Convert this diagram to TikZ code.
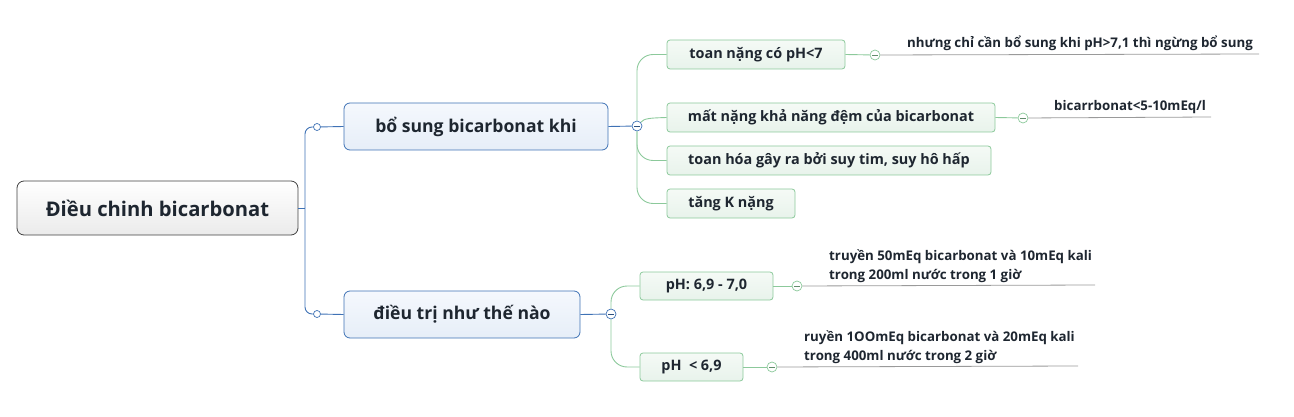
\documentclass[tikz,border=0pt]{standalone}
\usepackage{fontspec}
\setmainfont{Open Sans}
\usetikzlibrary{positioning}

\definecolor{bluelink}{HTML}{3F72B5}
\definecolor{greenlink}{HTML}{8CC99B}
\definecolor{leafgray}{HTML}{9A9A9A}
\definecolor{inkdark}{HTML}{1E2630}
\definecolor{bluetop}{HTML}{F5F8FD}
\definecolor{bluebot}{HTML}{E6EEF8}
\definecolor{greentop}{HTML}{F5FAF6}
\definecolor{greenbot}{HTML}{E8F3EB}

\begin{document}
\begin{tikzpicture}[x=1pt,y=-1pt,
    blueln/.style={draw=bluelink,line width=0.9pt},
    greenln/.style={draw=greenlink,line width=0.9pt},
    leafln/.style={draw=leafgray,line width=0.8pt},
    knob/.style={circle,draw=#1,fill=white,line width=0.7pt,minimum size=10pt,inner sep=0pt,
      path picture={\draw[#1!70!black,line width=0.9pt]
        ([xshift=-2.6pt]path picture bounding box.center) -- ([xshift=2.6pt]path picture bounding box.center);}},
    dot/.style={circle,draw=bluelink,fill=white,line width=0.7pt,minimum size=7pt,inner sep=0pt}]

  \useasboundingbox (0,0) rectangle (1294,417);

  % main topic
  \node[draw=black!75,rounded corners=7pt,top color=white,bottom color=black!8,line width=0.8pt,
        minimum width=281pt,minimum height=54pt,font=\bfseries\fontsize{20.2}{24}\selectfont,text=inkdark]
    (root) at (157.5,208) {Điều chinh bicarbonat};

  % first level
  \begin{scope}[every node/.style={draw=bluelink,rounded corners=6pt,top color=bluetop,bottom color=bluebot,
      line width=0.8pt,minimum height=47pt,font=\bfseries\fontsize{17.6}{20}\selectfont,text=inkdark}]
    \node[minimum width=264pt] (bosung) at (476,126.5) {bổ sung bicarbonat khi};
    \node[minimum width=236pt] (dieutri) at (462,314.5) {điều trị như thế nào};
  \end{scope}

  % second level
  \begin{scope}[every node/.style={draw=greenlink,rounded corners=3pt,top color=greentop,bottom color=greenbot,
      line width=0.8pt,minimum height=29pt,font=\bfseries\fontsize{14.4}{17}\selectfont,text=inkdark}]
    \node[minimum width=178pt] (toan) at (756,54.5) {toan nặng có pH<7};
    \node[minimum width=328pt] (matdem) at (831,117.5) {mất nặng khả năng đệm của bicarbonat};
    \node[minimum width=324pt] (suytim) at (829,160.5) {toan hóa gây ra bởi suy tim, suy hô hấp};
    \node[minimum width=128pt] (tangk) at (731,203.5) {tăng K nặng};
    \node[minimum width=133pt,minimum height=28pt] (ph1) at (706.5,286) {pH: 6,9 - 7,0};
    \node[minimum width=103pt,minimum height=28pt] (ph2) at (691.5,367) {pH \ < 6,9};
  \end{scope}

  % leaf texts
  \begin{scope}[every node/.style={anchor=south west,inner sep=0pt,align=left,
      font=\bfseries\fontsize{13.3}{19}\selectfont,text=inkdark}]
    \node (ngung) at (907,51) {nhưng chỉ cần bổ sung khi pH>7,1 thì ngừng bổ sung};
    \node (bicar) at (1054,114) {bicarrbonat<5-10mEq/l};
    \node (truyen1) at (829,283) {truyền 50mEq bicarbonat và 10mEq kali\\trong 200ml nước trong 1 giờ};
    \node (truyen2) at (804,364) {ruyền 1OOmEq bicarbonat và 20mEq kali\\trong 400ml nước trong 2 giờ};
  \end{scope}

  % small circles
  \node[dot] (o1) at (317,127) {};
  \node[dot] (o2) at (317,314) {};
  \node[knob=bluelink] (kb) at (637,126) {};
  \node[knob=bluelink] (kd) at (611,314) {};
  \node[knob=greenlink] (kt) at (875,55) {};
  \node[knob=greenlink] (km) at (1023,118) {};
  \node[knob=greenlink] (kp1) at (797,286) {};
  \node[knob=greenlink] (kp2) at (772,367) {};

  \coordinate (rj) at (305,208);
  \coordinate (ngungend) at (1259,54);
  \coordinate (bicarend) at (1211,117);
  \coordinate (truyen1end) at (1095,285);
  \coordinate (truyen2end) at (1078,366);

  % connectors
  \path[blueln] (root.east) -- (rj);
  \path[blueln,rounded corners=7pt] (rj) |- (o1);
  \path[blueln,rounded corners=7pt] (rj) |- (o2);
  \path[blueln] (o1) -- (bosung.west);
  \path[blueln] (o2) -- (dieutri.west);

  \path[blueln] (bosung.east) -- (kb);
  \path[blueln] (dieutri.east) -- (kd);

  \path[greenln,rounded corners=16pt] (kb.north) |- (toan.west);
  \path[greenln] (kb.north east) .. controls (644,118) and (652,118) .. (matdem.west);
  \path[greenln,rounded corners=16pt] (kb.south) |- (suytim.west);
  \path[greenln,rounded corners=16pt] (kb.south) |- (tangk.west);
  \path[greenln,rounded corners=16pt] (kd.north) |- (ph1.west);
  \path[greenln,rounded corners=16pt] (kd.south) |- (ph2.west);

  \path[greenln] (toan.east) -- (kt);
  \path[greenln] (matdem.east) -- (km);
  \path[greenln] (ph1.east) -- (kp1);
  \path[greenln] (ph2.east) -- (kp2);

  \path[leafln] (kt) -- (ngungend);
  \path[leafln] (km) -- (bicarend);
  \path[leafln] (kp1) -- (truyen1end);
  \path[leafln] (kp2) -- (truyen2end);

\end{tikzpicture}
\end{document}
